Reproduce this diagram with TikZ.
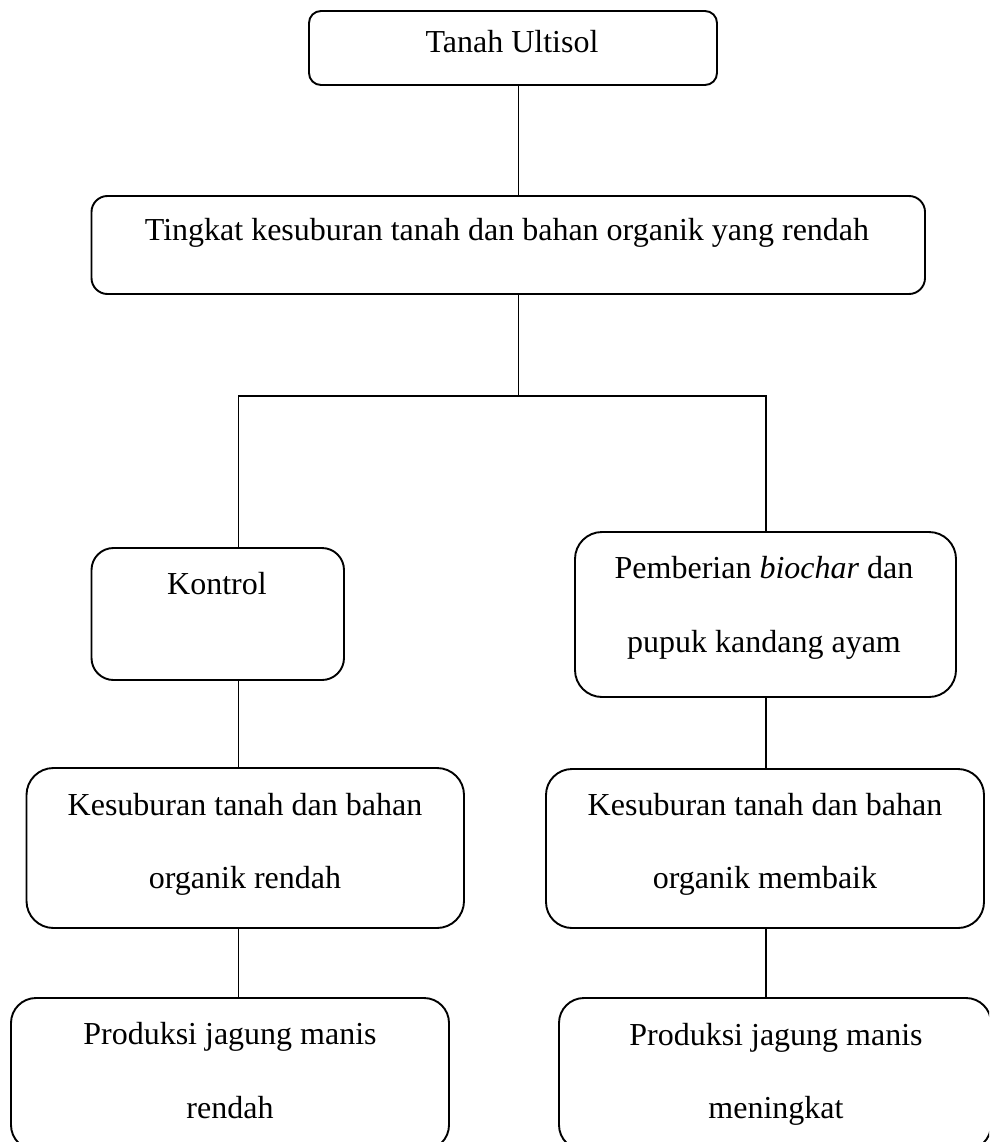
\documentclass[tikz,border=0pt]{standalone}
\usepackage{fontspec}
\setmainfont{Liberation Serif}
\begin{document}
\begin{tikzpicture}[x=1pt,y=-1pt,
  box/.style={draw,line width=1.9pt,rectangle,inner sep=0pt,outer sep=0pt,anchor=north west},
  txt/.style={anchor=base,inner sep=0pt,font=\fontsize{32}{38}\selectfont},
  link/.style={line width=1.4pt}]
\useasboundingbox (0,0) rectangle (989,1142);
\clip (0,0) rectangle (989,1142);
% boxes
\node[box,rounded corners=12pt,minimum width=408pt,minimum height=74pt] (b1) at (309,11) {};
\node[box,rounded corners=16pt,minimum width=833.5pt,minimum height=98pt] (b2) at (91.5,196) {};
\node[box,rounded corners=22pt,minimum width=252.5pt,minimum height=132pt] (b3) at (91.5,548) {};
\node[box,rounded corners=27pt,minimum width=381pt,minimum height=165pt] (b4) at (575,532) {};
\node[box,rounded corners=27pt,minimum width=437.5pt,minimum height=160pt] (b5) at (26.5,768) {};
\node[box,rounded corners=26pt,minimum width=438pt,minimum height=159pt] (b6) at (546,769) {};
\node[box,rounded corners=25pt,minimum width=438pt,minimum height=152pt] (b7) at (11,998) {};
\node[box,rounded corners=25pt,minimum width=432pt,minimum height=152pt] (b8) at (559,998) {};
% texts
\node[txt] (t1) at (512,53) {Tanah Ultisol};
\node[txt] (t2) at (507,240) {Tingkat kesuburan tanah dan bahan organik yang rendah};
\node[txt] (t3) at (217,594) {Kontrol};
\node[txt] (t4a) at (764,578) {Pemberian \textit{biochar} dan};
\node[txt] (t4b) at (764,652) {pupuk kandang ayam};
\node[txt] (t5a) at (245,815) {Kesuburan tanah dan bahan};
\node[txt] (t5b) at (245,888) {organik rendah};
\node[txt] (t6a) at (765,815) {Kesuburan tanah dan bahan};
\node[txt] (t6b) at (765,888) {organik membaik};
\node[txt] (t7a) at (230,1044) {Produksi jagung manis};
\node[txt] (t7b) at (230,1118) {rendah};
\node[txt] (t8a) at (776,1045) {Produksi jagung manis};
\node[txt] (t8b) at (776,1118) {meningkat};
% connectors
\coordinate (xa) at (518.5,0);
\coordinate (xb) at (238.5,0);
\coordinate (xc) at (766,0);
\coordinate (jm) at (518.5,396);
\coordinate (jl) at (238.5,396);
\coordinate (jr) at (766,396);
\draw[link] (b1.south -| xa) -- (b2.north -| xa);
\draw[link] (b2.south -| xa) -- (jm);
\draw[link,line cap=rect] (jl) -- (jr);
\draw[link] (jl) -- (b3.north -| jl);
\draw[link] (jr) -- (b4.north -| jr);
\draw[link] (b3.south -| xb) -- (b5.north -| xb);
\draw[link] (b5.south -| xb) -- (b7.north -| xb);
\draw[link] (b4.south -| xc) -- (b6.north -| xc);
\draw[link] (b6.south -| xc) -- (b8.north -| xc);
\end{tikzpicture}
\end{document}
